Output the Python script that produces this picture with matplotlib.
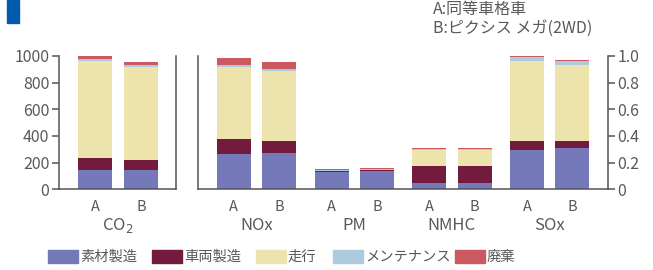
import matplotlib
matplotlib.use('Agg')
import matplotlib.pyplot as plt
import matplotlib.patches as mpatches
import numpy as np

plt.rcParams['font.family'] = ['Noto Sans CJK JP', 'DejaVu Sans']
plt.rcParams['axes.unicode_minus'] = False

# 凡例（工程）
stages = ['素材製造', '車両製造', '走行', 'メンテナンス', '廃棄']
colors = ['#7679B9', '#731A3F', '#EDE4AD', '#AECADF', '#CA5A60']
car_labels = ['A', 'B']

# CO2 (左軸)  A / B  各工程
co2_A = [145, 90, 725, 15, 25]
co2_B = [145, 75, 698, 15, 22]

# 右軸の物質
gases = ['NOx', 'PM', 'NMHC', 'SOx']
material_A = [0.265, 0.130, 0.0475, 0.295]
material_B = [0.2725, 0.1375, 0.0475, 0.310]
vehicle_A = [0.1125, 0.0075, 0.1275, 0.0675]
vehicle_B = [0.090, 0.0075, 0.1275, 0.0525]
driving_A = [0.540, 0.003, 0.1225, 0.5975]
driving_B = [0.525, 0.003, 0.1225, 0.5675]
maint_A = [0.015, 0.005, 0.005, 0.030]
maint_B = [0.015, 0.005, 0.005, 0.0325]
disposal_A = [0.0525, 0.007, 0.0075, 0.010]
disposal_B = [0.0525, 0.0075, 0.0075, 0.0075]

txt = '#595959'
spine_c = '#555555'

W, H = 653, 270
fig = plt.figure(figsize=(W / 100, H / 100), dpi=100)

# 左上の青いマーク
fig.patches.append(mpatches.Rectangle((7 / W, 1 - 23 / H), 12 / W, 23 / H,
                                      transform=fig.transFigure, color='#005BAC'))
fig.text(433 / W, 1 - 9.5 / H, 'A:同等車格車', fontsize=11.5, color=txt, va='center')
fig.text(433 / W, 1 - 28.5 / H, 'B:ピクシス メガ(2WD)', fontsize=11.5, color=txt, va='center')

y0 = (H - 189.3) / H
h = 133.3 / H
ax1 = fig.add_axes([59 / W, y0, (176 - 59) / W, h])
ax2 = fig.add_axes([198 / W, y0, (608 - 198) / W, h])

bw = 34


def stack(ax, x, vals):
    bottom = 0
    for v, c in zip(vals, colors):
        ax.bar(x, v, bw, bottom=bottom, color=c, linewidth=0)
        bottom += v


# 左: CO2
ax1.set_xlim(59, 176)
ax1.set_ylim(0, 1000)
stack(ax1, 95, co2_A)
stack(ax1, 141, co2_B)
ax1.set_xticks([95, 141])
ax1.set_xticklabels(car_labels)
ax1.set_yticks(np.arange(0, 1001, 200))
ax1.spines['top'].set_visible(False)
ax1.text(118, -0.275, 'CO$_{2}$', transform=ax1.get_xaxis_transform(),
         ha='center', va='center', fontsize=12, color=txt)

# 右: NOx, PM, NMHC, SOx
ax2.set_xlim(198, 608)
ax2.set_ylim(0, 1.0)
A_sets = list(zip(material_A, vehicle_A, driving_A, maint_A, disposal_A))
B_sets = list(zip(material_B, vehicle_B, driving_B, maint_B, disposal_B))
ticks = []
for i, g in enumerate(gases):
    c = 256.5 + 97.7 * i
    stack(ax2, c - 22.7, A_sets[i])
    stack(ax2, c + 22.7, B_sets[i])
    ticks += [c - 22.7, c + 22.7]
    ax2.text(c, -0.275, g, transform=ax2.get_xaxis_transform(),
             ha='center', va='center', fontsize=12, color=txt)
ax2.set_xticks(ticks)
ax2.set_xticklabels(car_labels * len(gases))
ax2.set_yticks(np.arange(0, 1.01, 0.2))
ax2.set_yticklabels(['0', '0.2', '0.4', '0.6', '0.8', '1.0'])
ax2.yaxis.tick_right()
ax2.spines['top'].set_visible(False)

for ax in (ax1, ax2):
    for s in ax.spines.values():
        s.set_color(spine_c)
        s.set_linewidth(1.1)
    ax.tick_params(axis='x', length=0, labelsize=10.5, labelcolor=txt, pad=8)
    ax.tick_params(axis='y', length=5, width=1.1, color=spine_c, labelsize=11.5,
                   labelcolor=txt, pad=2)

# 凡例（手置き）
legend_x = [48, 152, 256, 333, 455]
for lx, s, c in zip(legend_x, stages, colors):
    fig.patches.append(mpatches.Rectangle((lx / W, 1 - 263 / H), 30 / W, 13 / H,
                                          transform=fig.transFigure, color=c))
    fig.text((lx + 32) / W, 1 - 256.5 / H, s, fontsize=10.3, color=txt, va='center')

fig.savefig('out.png', dpi=100)
